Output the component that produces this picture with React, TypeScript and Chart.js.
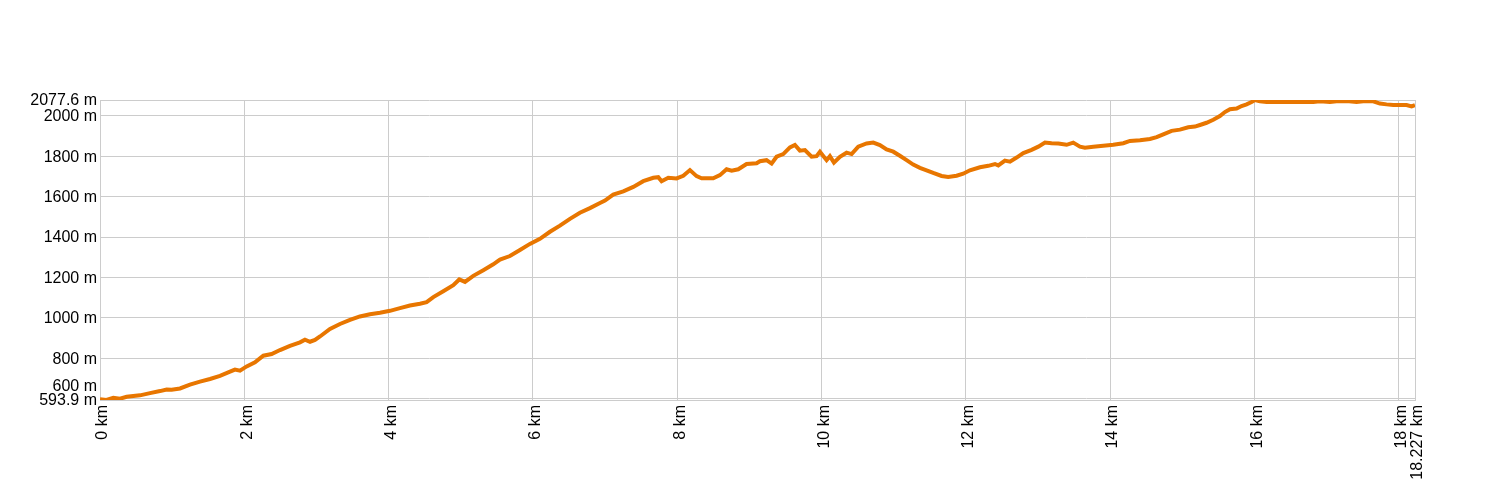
import React, { useEffect, useRef } from "react";
import { Chart, registerables } from "chart.js";

Chart.register(...registerables);

const distanceKm = [
  0, 0.09, 0.185, 0.277, 0.37, 0.554, 0.693, 0.832, 0.924, 0.993, 1.109, 1.247, 1.386, 1.525, 1.663, 1.802, 1.871, 1.94, 2.033, 2.148, 2.264, 2.379, 2.495, 2.633, 2.772, 2.841, 2.911, 2.98, 3.049,
  3.188, 3.326, 3.465, 3.603, 3.742, 3.881, 4.019, 4.158, 4.296, 4.435, 4.527, 4.62, 4.758, 4.897, 4.98, 5.059, 5.174, 5.313, 5.451, 5.544, 5.682, 5.821, 5.959, 6.098,
  6.237, 6.375, 6.514, 6.652, 6.791, 6.93, 6.999, 7.114, 7.253, 7.392, 7.53, 7.669, 7.738, 7.784, 7.877, 7.992, 8.085, 8.177, 8.269, 8.339, 8.5, 8.593, 8.685, 8.755, 8.847, 8.962, 9.101, 9.147,
  9.239, 9.309, 9.378, 9.47, 9.563, 9.632, 9.701, 9.771, 9.863, 9.932, 9.979, 10.071, 10.117, 10.173, 10.256, 10.348, 10.418, 10.51, 10.625, 10.718, 10.81, 10.903, 10.995, 11.087, 11.18, 11.272, 11.365, 11.457, 11.549, 11.665, 11.757, 11.873, 11.965, 12.058, 12.197,
  12.312, 12.405, 12.451, 12.543, 12.613, 12.705, 12.798, 12.913, 13.006, 13.098, 13.19, 13.283, 13.398, 13.49, 13.583, 13.652, 13.768, 13.906, 14.045, 14.184, 14.276, 14.415, 14.553, 14.646, 14.738, 14.853, 14.969, 15.084, 15.177, 15.246,
  15.338, 15.431, 15.523, 15.592, 15.662, 15.754, 15.823, 15.893, 15.962, 16.008, 16.078, 16.17, 16.309, 16.493, 16.632, 16.817, 16.909, 17.048, 17.14, 17.279, 17.417, 17.51, 17.648, 17.741, 17.833, 17.926, 18.018, 18.11, 18.18, 18.227,
];

const elevationM = [
  598, 593.9, 605, 600, 610, 617, 628, 638, 646, 645, 651, 670, 685, 698, 713, 734, 744, 739, 760, 780, 813, 821, 841, 862, 879, 892, 882, 891, 908,
  945, 970, 990, 1007, 1018, 1025, 1035, 1048, 1061, 1070, 1078, 1103, 1132, 1162, 1190, 1178, 1208, 1236, 1265, 1288, 1306, 1336, 1366, 1391,
  1426, 1456, 1490, 1520, 1543, 1568, 1580, 1610, 1626, 1648, 1676, 1693, 1696, 1676, 1693, 1690, 1703, 1731, 1701, 1690, 1690, 1706, 1735, 1728, 1735, 1761, 1765, 1775,
  1780, 1763, 1797, 1810, 1843, 1855, 1827, 1830, 1797, 1800, 1822, 1780, 1800, 1768, 1797, 1817, 1810, 1847, 1863, 1867, 1855, 1833, 1822, 1802, 1780, 1758, 1742, 1730, 1717, 1702, 1697, 1703, 1713, 1730, 1745,
  1752, 1761, 1754, 1778, 1773, 1793, 1815, 1831, 1847, 1867, 1864, 1862, 1856, 1867, 1847, 1842, 1846, 1851, 1856, 1864, 1875, 1879, 1885, 1894, 1908, 1925, 1931, 1943, 1946, 1954,
  1965, 1980, 1998, 2018, 2032, 2035, 2048, 2056, 2068, 2077.6, 2071, 2068, 2068, 2068, 2068, 2068, 2071, 2068, 2071, 2073, 2068, 2071, 2071, 2060, 2056, 2053, 2053, 2053, 2046, 2053,
];

const xTickValues = [0, 2, 4, 6, 8, 10, 12, 14, 16, 18, 18.227];
const yTickValues = [593.9, 600, 800, 1000, 1200, 1400, 1600, 1800, 2000, 2077.6];

const FONT_FAMILY = "'Liberation Sans', Arial, Helvetica, sans-serif";
const LINE_COLOR = "rgb(232, 118, 0)";
const GRID_COLOR = "#cccccc";

export default function App() {
  const canvasRef = useRef<HTMLCanvasElement>(null);

  useEffect(() => {
    if (!canvasRef.current) return;
    const chart = new Chart(canvasRef.current, {
      type: "line",
      data: {
        datasets: [
          {
            data: distanceKm.map((d, i) => ({ x: d, y: elevationM[i] })),
            borderColor: LINE_COLOR,
            borderWidth: 4,
            pointRadius: 0,
            tension: 0,
            fill: false,
          },
        ],
      },
      options: {
        animation: false,
        responsive: false,
        maintainAspectRatio: false,
        layout: { padding: { top: 100, right: 85, left: 0, bottom: 0 } },
        plugins: { legend: { display: false }, tooltip: { enabled: false } },
        scales: {
          x: {
            type: "linear",
            min: 0,
            max: 18.227,
            afterBuildTicks: (s: any) => {
              s.ticks = xTickValues.map((v) => ({ value: v }));
            },
            afterFit: (s: any) => {
              s.height = 100;
            },
            ticks: {
              autoSkip: false,
              maxRotation: 90,
              minRotation: 90,
              padding: 5,
              labelOffset: 3,
              color: "#000",
              font: { family: FONT_FAMILY, size: 16 },
              callback: (v: any) => `${v} km`,
            },
            grid: { color: GRID_COLOR, drawTicks: false, lineWidth: 1 },
            border: { color: GRID_COLOR },
          },
          y: {
            type: "linear",
            min: 593.9,
            max: 2077.6,
            afterBuildTicks: (s: any) => {
              s.ticks = yTickValues.map((v) => ({ value: v }));
            },
            afterFit: (s: any) => {
              s.width = 100;
            },
            ticks: {
              autoSkip: false,
              padding: 3,
              labelOffset: 1,
              color: "#000",
              font: (ctx: any) => ({
                family: FONT_FAMILY,
                size: 16,
                lineHeight: ctx.tick && ctx.tick.value === 600 ? 1.6 : 1.2,
              }),
              callback: (v: any) => (v === 600 ? ["600 m", ""] : `${v} m`),
            },
            grid: { color: GRID_COLOR, drawTicks: false, lineWidth: 1 },
            border: { color: GRID_COLOR },
          },
        },
      },
    });
    return () => chart.destroy();
  }, []);

  return (
    <div style={{ position: "absolute", left: 0, top: 0, width: 1500, height: 500 }}>
      <canvas ref={canvasRef} width={1500} height={500} style={{ display: "block" }} />
    </div>
  );
}
